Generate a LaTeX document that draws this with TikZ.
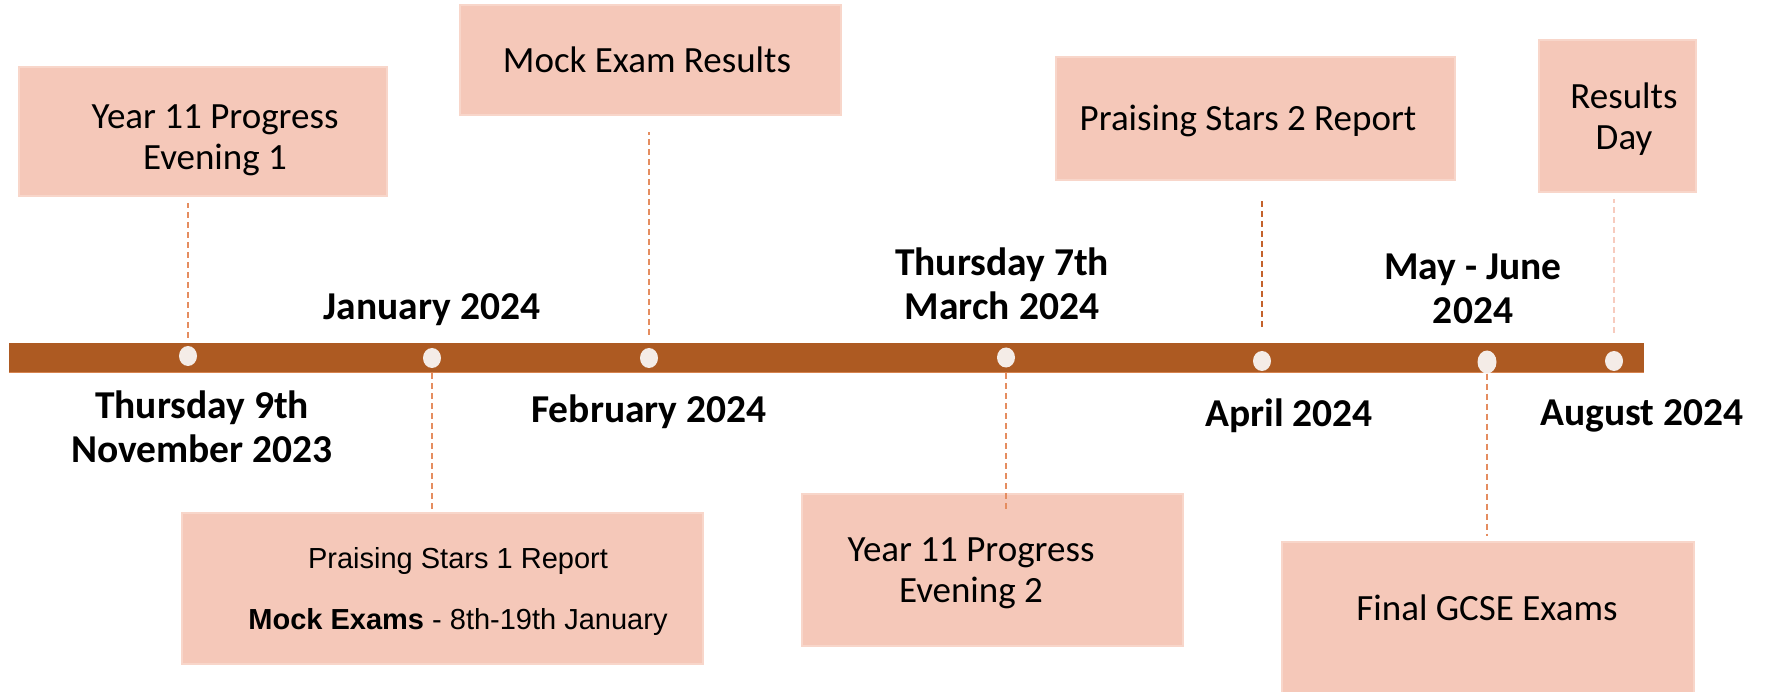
\documentclass[tikz,border=0pt]{standalone}
\usepackage{fontspec}
\setmainfont{Carlito}
\newfontfamily\arialfont{Liberation Sans}
\usetikzlibrary{shapes.geometric}
\definecolor{boxfill}{HTML}{F5C8B9}
\definecolor{boxedge}{HTML}{F8D6CA}
\definecolor{barbrown}{HTML}{AD5A22}
\definecolor{baredge}{HTML}{D6834F}
\definecolor{dotfill}{HTML}{F4ECE7}
\definecolor{dashorange}{HTML}{E58D60}
\definecolor{dashdark}{HTML}{C4622C}
\definecolor{dashpink}{HTML}{F7CBBE}
\tikzset{
  evbox/.style={rectangle, fill=boxfill, draw=boxedge, line width=1.2pt, inner sep=0pt},
  boxtext/.style={font=\fontsize{37}{41}\selectfont, align=center, inner sep=0pt},
  arialtext/.style={font=\arialfont\fontsize{29}{33}\selectfont, align=center, inner sep=0pt},
  datelabel/.style={font=\bfseries\fontsize{39.5}{44}\selectfont, align=center, inner sep=0pt},
  tdot/.style={ellipse, fill=dotfill, minimum width=18pt, minimum height=20pt, inner sep=0pt},
  conn/.style={dashorange, line width=1.6pt, dash pattern=on 6pt off 4pt},
  timebar/.style={rectangle, fill=barbrown, inner sep=0pt}
}
\begin{document}
\begin{tikzpicture}[x=1pt, y=-1pt]
\useasboundingbox (0,0) rectangle (1766,692);
\fill[white] (0,0) rectangle (1766,692);
% boxes
\node[evbox, minimum width=368pt, minimum height=129pt] (b1) at (203,131.5) {};
\node[evbox, minimum width=381pt, minimum height=110pt] (b2) at (650.5,60) {};
\node[evbox, minimum width=521pt, minimum height=151pt] (b3) at (442.5,588.5) {};
\node[evbox, minimum width=381pt, minimum height=152pt] (b4) at (992.5,570) {};
\node[evbox, minimum width=399pt, minimum height=123pt] (b5) at (1255.5,118.5) {};
\node[evbox, minimum width=157pt, minimum height=152pt] (b6) at (1617.5,116) {};
\node[evbox, minimum width=412pt, minimum height=158pt] (b7) at (1488,621) {};
% bar
\node[timebar, minimum width=1635pt, minimum height=29pt] (bar) at (826.5,357.5) {};
\draw[baredge, line width=1.2pt] (bar.south west) -- (bar.south east);
% dots
\node[tdot] (d1) at (188,356) {};
\node[tdot] (d2) at (432,358) {};
\node[tdot] (d3) at (649,358) {};
\node[tdot] (d4) at (1006,357.5) {};
\node[tdot] (d5) at (1262,361) {};
\node[tdot, minimum width=19pt, minimum height=23pt] (d6) at (1487,362) {};
\node[tdot] (d7) at (1614,361) {};
% connectors
\draw[conn, shorten <=8pt, shorten >=6pt] (d1.north) -- (d1 |- b1.south);
\draw[conn, shorten <=5pt] (d2.south) -- (d2 |- b3.north);
\draw[conn, shorten <=13pt, shorten >=16pt] (d3.north) -- (d3 |- b2.south);
\draw[conn, shorten <=5.5pt, shorten >=-18pt] (d4.south) -- (d4 |- b4.north);
\draw[conn, dashdark, shorten <=24pt, shorten >=18pt] (d5.north) -- (d5 |- b5.south);
\draw[conn, shorten >=5pt] (d6.south) -- (d6 |- b7.north);
\draw[conn, dashpink, shorten <=18pt, shorten >=6pt] (d7.north) -- (d7 |- b6.south);
% box texts
\node[boxtext] (t1) at (215,140) {Year 11 Progress\\Evening 1};
\node[boxtext, anchor=base] (t2) at (647,73) {Mock Exam Results};
\node[arialtext] (t3) at (458,591) {Praising Stars 1 Report\\[28pt]\textbf{Mock Exams} - 8th-19th January};
\node[boxtext] (t4) at (971,573) {Year 11 Progress\\Evening 2};
\node[boxtext, anchor=base] (t5) at (1248,131) {Praising Stars 2 Report};
\node[boxtext] (t6) at (1624,119) {Results\\Day};
\node[boxtext, anchor=base] (t7) at (1487,620) {Final GCSE Exams};
% date labels
\node[datelabel] (l1) at (202,427) {Thursday 9th\\November 2023};
\node[datelabel, anchor=base] (l2) at (432,320) {January 2024};
\node[datelabel, anchor=base] (l3) at (649,422) {February 2024};
\node[datelabel] (l4) at (1002,284) {Thursday 7th\\March 2024};
\node[datelabel, anchor=base] (l5) at (1289,426) {April 2024};
\node[datelabel] (l6) at (1473,289) {May - June\\2024};
\node[datelabel, anchor=base] (l7) at (1642,425) {August 2024};
\end{tikzpicture}
\end{document}
